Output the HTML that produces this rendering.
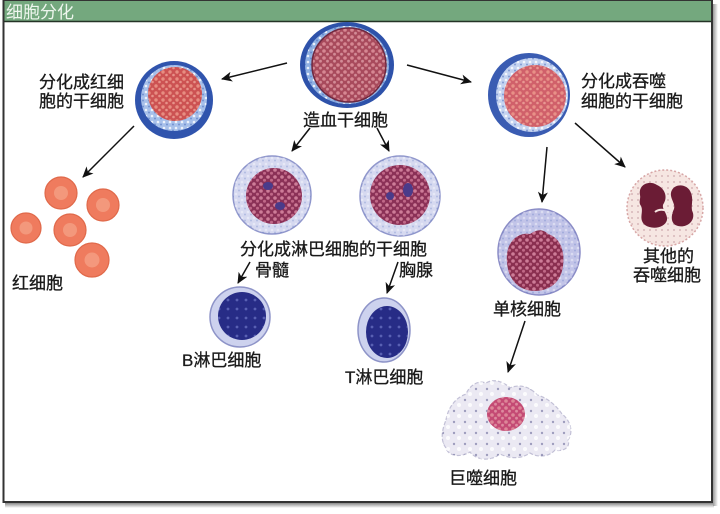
<!DOCTYPE html>
<html><head><meta charset="utf-8">
<style>
html,body{margin:0;padding:0;background:#fff;}
svg{display:block;}
text{font-family:"Liberation Sans","Noto Sans CJK SC",sans-serif;font-size:17px;fill:#1a1a1a;stroke:#1a1a1a;stroke-width:0.3;}
</style></head>
<body>
<svg width="720" height="514" viewBox="0 0 720 514" xmlns="http://www.w3.org/2000/svg">
<defs>
  <pattern id="pnuc" width="7" height="7" patternUnits="userSpaceOnUse">
    <circle cx="2" cy="2" r="1.8" fill="#e59aa4" opacity="0.75"/>
    <circle cx="5.5" cy="5.2" r="1.4" fill="#eeb6bc" opacity="0.6"/>
  </pattern>
  <pattern id="pred" width="7" height="7" patternUnits="userSpaceOnUse">
    <circle cx="2" cy="2" r="1.7" fill="#f0a090" opacity="0.75"/>
    <circle cx="5.5" cy="5" r="1.3" fill="#f6b6a8" opacity="0.65"/>
  </pattern>
  <pattern id="pmar" width="7" height="7" patternUnits="userSpaceOnUse">
    <circle cx="2" cy="2" r="1.8" fill="#d88aa4" opacity="0.85"/>
    <circle cx="5.5" cy="5.3" r="1.5" fill="#d17b98" opacity="0.75"/>
  </pattern>
  <pattern id="pband" width="6" height="6" patternUnits="userSpaceOnUse">
    <circle cx="2" cy="2" r="1.3" fill="#ffffff" opacity="0.8"/>
    <circle cx="5" cy="4.5" r="1" fill="#3f62b6" opacity="0.5"/>
  </pattern>
  <pattern id="pnavy" width="9" height="9" patternUnits="userSpaceOnUse">
    <circle cx="3" cy="3" r="1.4" fill="#7a82d0" opacity="0.6"/>
  </pattern>
  <pattern id="ppale" width="6" height="6" patternUnits="userSpaceOnUse">
    <circle cx="2" cy="2" r="0.9" fill="#b07f88" opacity="0.6"/>
  </pattern>
  <pattern id="pmac" width="11" height="11" patternUnits="userSpaceOnUse">
    <circle cx="3" cy="4" r="1.2" fill="#6a6a9a" opacity="0.6"/>
    <circle cx="8" cy="9" r="2" fill="#ffffff" opacity="0.8"/>
  </pattern>
  <marker id="ah" markerWidth="12" markerHeight="10" refX="10" refY="5" orient="auto" markerUnits="userSpaceOnUse">
    <path d="M0,0 L11,5 L0,10 L3,5 z" fill="#111"/>
  </marker>
  <linearGradient id="shb" x1="0" y1="0" x2="0" y2="1">
    <stop offset="0" stop-color="#888"/><stop offset="1" stop-color="#fff"/>
  </linearGradient>
  <linearGradient id="shr" x1="0" y1="0" x2="1" y2="0">
    <stop offset="0" stop-color="#999"/><stop offset="1" stop-color="#fff"/>
  </linearGradient>
</defs>

<!-- frame -->
<rect x="5" y="503" width="709" height="5" fill="url(#shb)"/>
<rect x="713" y="4" width="5" height="502" fill="url(#shr)"/>
<rect x="3.5" y="0.5" width="708.5" height="501.5" fill="#fff" stroke="#333" stroke-width="2"/>
<rect x="4.5" y="1" width="706.5" height="20" fill="#74a87e"/>
<line x1="4" y1="21.5" x2="711" y2="21.5" stroke="#243326" stroke-width="1.6"/>
<text x="6" y="18" style="fill:#eef6ee;stroke:none;font-size:17px;">细胞分化</text>

<!-- HSC -->
<ellipse cx="347" cy="65" rx="47" ry="43" fill="#2e52aa"/>
<ellipse cx="347" cy="65" rx="42" ry="39" fill="#8fb0e2"/>
<ellipse cx="347" cy="65" rx="42" ry="39" fill="url(#pband)"/>
<circle cx="349" cy="65" r="37" fill="#a84a5c"/>
<circle cx="349" cy="65" r="37" fill="url(#pnuc)"/>
<circle cx="349" cy="65" r="37" fill="none" stroke="#6e2840" stroke-width="1.5"/>
<text x="303" y="126">造血干细胞</text>

<!-- erythroid stem -->
<circle cx="174" cy="100" r="39" fill="#3054ad"/>
<circle cx="174" cy="98" r="33" fill="#a7c0ea"/>
<circle cx="174" cy="98" r="33" fill="url(#pband)"/>
<circle cx="175" cy="94" r="27" fill="#cc5252"/>
<circle cx="175" cy="94" r="27" fill="url(#pred)"/>
<text x="39" y="88">分化成红细</text>
<text x="39" y="107">胞的干细胞</text>

<!-- RBCs -->
<g stroke="#e0694a" stroke-width="1.2">
<circle cx="61" cy="193" r="16" fill="#ef7b5e"/>
<circle cx="103" cy="205" r="16" fill="#ef7b5e"/>
<circle cx="26" cy="228" r="15" fill="#ef7b5e"/>
<circle cx="70" cy="230" r="16" fill="#ef7b5e"/>
<circle cx="92" cy="260" r="17" fill="#ef7b5e"/>
</g>
<g fill="#f5a084" opacity="0.8">
<circle cx="61" cy="193" r="7"/>
<circle cx="103" cy="205" r="7"/>
<circle cx="26" cy="228" r="6.5"/>
<circle cx="70" cy="230" r="7"/>
<circle cx="92" cy="260" r="7.5"/>
</g>
<text x="12" y="289">红细胞</text>

<!-- myeloid stem -->
<ellipse cx="529" cy="95" rx="41" ry="42" fill="#3a5cb2"/>
<ellipse cx="532" cy="95" rx="36" ry="37" fill="#c4d3f0"/>
<ellipse cx="532" cy="95" rx="36" ry="37" fill="url(#pband)"/>
<circle cx="535" cy="96" r="31" fill="#d0606a"/>
<circle cx="535" cy="96" r="31" fill="url(#pred)"/>
<text x="581" y="87">分化成吞噬</text>
<text x="581" y="107">细胞的干细胞</text>

<!-- lymphoid stems -->
<circle cx="272" cy="195" r="39" fill="#d6d9f0" stroke="#9097cc" stroke-width="1.5"/>
<circle cx="272" cy="195" r="39" fill="url(#pband)" opacity="0.5"/>
<circle cx="274" cy="196" r="28" fill="#8b3157"/>
<circle cx="274" cy="196" r="28" fill="url(#pmar)"/>
<circle cx="400" cy="196" r="40" fill="#d6d9f0" stroke="#9097cc" stroke-width="1.5"/>
<circle cx="400" cy="196" r="40" fill="url(#pband)" opacity="0.5"/>
<circle cx="400" cy="195" r="30" fill="#8b3157"/>
<circle cx="400" cy="195" r="30" fill="url(#pmar)"/>
<ellipse cx="268" cy="186" rx="5" ry="4" fill="#4a3b8a"/>
<ellipse cx="280" cy="206" rx="5" ry="4" fill="#4a3b8a"/>
<ellipse cx="408" cy="190" rx="5" ry="7" fill="#4a3b8a"/>
<ellipse cx="390" cy="196" rx="4" ry="4" fill="#4a3b8a"/>
<text x="240" y="255">分化成淋巴细胞的干细胞</text>
<text x="255" y="276">骨髓</text>
<text x="399" y="276">胸腺</text>

<!-- B cell -->
<circle cx="240" cy="317" r="30" fill="#cdd2ee" stroke="#8e94c8" stroke-width="1.5"/>
<circle cx="242" cy="316" r="24" fill="#272c86"/>
<circle cx="242" cy="316" r="24" fill="url(#pnavy)"/>
<text x="182" y="366">B淋巴细胞</text>

<!-- T cell -->
<ellipse cx="384" cy="330" rx="26" ry="32" fill="#cdd2ee" stroke="#8e94c8" stroke-width="1.5"/>
<ellipse cx="387" cy="332" rx="21" ry="26" fill="#272c86"/>
<ellipse cx="387" cy="332" rx="21" ry="26" fill="url(#pnavy)"/>
<text x="345" y="383">T淋巴细胞</text>

<!-- monocyte -->
<ellipse cx="539" cy="252" rx="41" ry="43" fill="#c2c4e8" stroke="#8a8cc6" stroke-width="1.5"/>
<ellipse cx="539" cy="252" rx="41" ry="43" fill="url(#pband)" opacity="0.5"/>
<path d="M507,262 C505,242 518,232 530,234 C536,230 542,228 548,234 C560,238 565,250 563,266 C561,282 550,291 534,291 C517,290 508,278 507,262 z" fill="#8a2f50"/>
<path d="M507,262 C505,242 518,232 530,234 C536,230 542,228 548,234 C560,238 565,250 563,266 C561,282 550,291 534,291 C517,290 508,278 507,262 z" fill="url(#pmar)"/>
<text x="493" y="315">单核细胞</text>

<!-- neutrophil -->
<circle cx="665" cy="208" r="38" fill="#f6e6e2" stroke="#d7a6a6" stroke-width="1.5" stroke-dasharray="2,2"/>
<circle cx="665" cy="208" r="37" fill="url(#ppale)"/>
<path d="M640,195 C638,184 650,180 657,185 C664,188 668,196 664,203 C660,208 668,213 667,220 C665,228 652,230 645,225 C638,219 644,212 641,206 C638,202 641,199 640,195 z" fill="#6b1c35"/>
<path d="M672,190 C676,183 688,184 691,193 C694,201 690,207 693,213 C695,222 686,228 678,226 C670,224 671,215 674,209 C676,203 668,197 672,190 z" fill="#6b1c35"/>
<path d="M655,212 C660,208 668,210 672,214" stroke="#f6e6e2" stroke-width="2" fill="none"/>
<text x="643" y="262">其他的</text>
<text x="633" y="281">吞噬细胞</text>

<!-- macrophage -->
<path d="M446,420 C448,408 455,398 466,394 C470,385 478,380 486,383 C494,378 504,382 510,388 C518,384 530,386 537,395 C546,397 556,405 562,414 C570,420 574,432 568,440 C571,448 562,452 555,450 C548,458 536,457 530,453 C520,460 508,458 500,454 C490,462 476,460 470,452 C460,458 448,456 446,448 C440,440 442,430 446,420 z" fill="#ebe9f3" stroke="#c2c0d6" stroke-width="1.2" stroke-dasharray="4,2"/>
<path d="M446,420 C448,408 455,398 466,394 C470,385 478,380 486,383 C494,378 504,382 510,388 C518,384 530,386 537,395 C546,397 556,405 562,414 C570,420 574,432 568,440 C571,448 562,452 555,450 C548,458 536,457 530,453 C520,460 508,458 500,454 C490,462 476,460 470,452 C460,458 448,456 446,448 C440,440 442,430 446,420 z" fill="url(#pmac)"/>
<ellipse cx="506" cy="414" rx="19" ry="17" fill="#c44a74"/>
<ellipse cx="506" cy="414" rx="19" ry="17" fill="url(#pnuc)"/>
<text x="449" y="484">巨噬细胞</text>

<!-- arrows -->
<g stroke="#111" stroke-width="1.5" fill="none" marker-end="url(#ah)">
<line x1="287" y1="63" x2="222" y2="79"/>
<line x1="407" y1="65" x2="471" y2="82"/>
<line x1="134" y1="126" x2="83" y2="177"/>
<line x1="310" y1="128" x2="292" y2="151"/>
<line x1="377" y1="128" x2="389" y2="151"/>
<line x1="547" y1="147" x2="542" y2="202"/>
<line x1="575" y1="123" x2="625" y2="167"/>
<line x1="250" y1="262" x2="238" y2="283"/>
<line x1="398" y1="262" x2="387" y2="293"/>
<line x1="525" y1="321" x2="508" y2="372"/>
</g>
</svg>
</body></html>
